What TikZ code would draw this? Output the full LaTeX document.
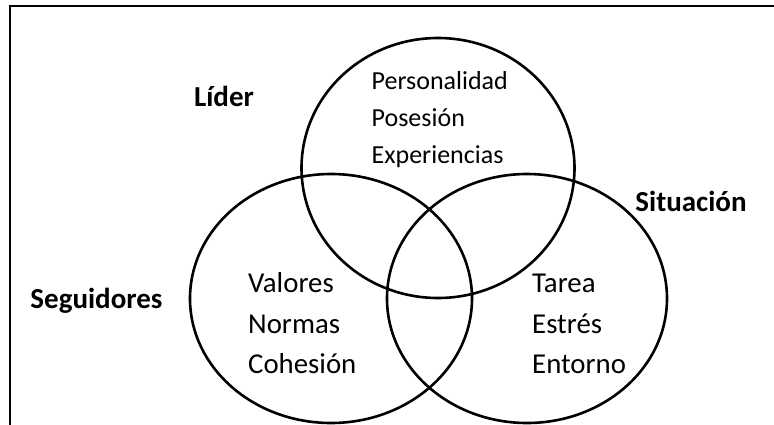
\documentclass[tikz,border=0pt]{standalone}
\usepackage{fontspec}
\setmainfont{Carlito}
\begin{document}
\begin{tikzpicture}[x=1pt,y=1pt,
  set/.style={line width=2.6pt,draw=black},
  item/.style={anchor=base west,inner sep=0pt,font=\fontsize{28.8}{32}\selectfont},
  topitem/.style={anchor=base west,inner sep=0pt,font=\fontsize{26}{30}\selectfont},
  head/.style={anchor=base,inner sep=0pt,font=\fontsize{29}{32}\selectfont\bfseries}]
\useasboundingbox (0,0) rectangle (774,-424);
\draw[line width=1.6pt] (10,-430) -- (10,-6) -- (780,-6);
\draw[set] (438,-168) ellipse [x radius=136.5, y radius=130];
\draw[set] (331,-298.5) ellipse [x radius=141, y radius=124.5];
\draw[set] (527,-298.5) ellipse [x radius=140, y radius=124.5];
\node[head] (lider) at (224,-106) {Líder};
\node[head] (sit) at (691,-211) {Situación};
\node[head] (seg) at (96.5,-308) {Seguidores};
\node[topitem] (p1) at (371.5,-89) {Personalidad};
\node[topitem] (p2) at (371.5,-126.7) {Posesión};
\node[topitem] (p3) at (371.5,-163.5) {Experiencias};
\node[item] (v1) at (248,-292.5) {Valores};
\node[item] (v2) at (248,-333) {Normas};
\node[item] (v3) at (248,-373.3) {Cohesión};
\node[item] (t1) at (532,-292.5) {Tarea};
\node[item] (t2) at (532,-333) {Estrés};
\node[item] (t3) at (532,-373.3) {Entorno};
\end{tikzpicture}
\end{document}
